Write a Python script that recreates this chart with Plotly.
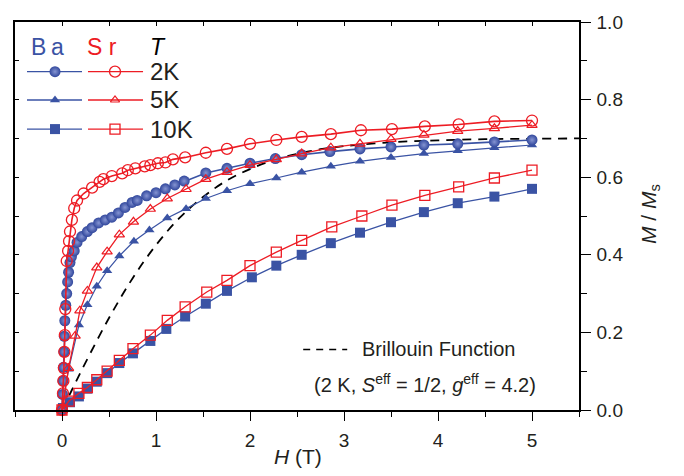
import plotly.graph_objects as go

# ---------------- data ----------------
H_ba2 = [0, .005, .01, .015, .02, .025, .03, .04, .05, .06, .07, .085, .1, .13, .16, .21, .27, .32, .39, .46,
         .53, .6, .67, .745, .8, .9, 1.0, 1.1, 1.2, 1.3, 1.53, 1.755, 2.0, 2.27, 2.55, 2.85, 3.17, 3.5, 3.85,
         4.21, 4.6, 5.0]
M_ba2 = [0, .04, .075, .11, .15, .19, .23, .27, .30, .33, .355, .38, .395, .41, .432, .447, .46, .47, .482, .49,
         .497, .508, .522, .535, .54, .552, .56, .570, .58, .59, .611, .623, .636, .648, .658, .666, .673, .678,
         .683, .686, .691, .696]

H_sr2 = [0, .01, .015, .02, .025, .03, .035, .05, .065, .075, .085, .105, .13, .16, .23, .32, .40, .44, .53, .64,
         .70, .78, .88, .94, 1.02, 1.1, 1.18, 1.31, 1.53, 1.755, 2.0, 2.28, 2.55, 2.86, 3.18, 3.51, 3.86, 4.22,
         4.6, 5.0]
M_sr2 = [0, .043, .075, .108, .15, .193, .26, .384, .41, .435, .46, .49, .52, .54, .558, .573, .588, .595, .603,
         .61, .618, .623, .628, .631, .636, .638, .646, .651, .663, .673, .686, .696, .704, .711, .721, .724, .731,
         .736, .744, .746]

H_ba5 = [0, 0.07, 0.18, 0.27, 0.37, 0.48, 0.61, 0.765, 0.93, 1.12, 1.32, 1.53, 1.755, 2.0, 2.28, 2.55, 2.86,
         3.17, 3.5, 3.85, 4.21, 4.6, 5.0]
M_ba5 = [0, 0.105, 0.219, 0.271, 0.319, 0.359, 0.397, 0.435, 0.464, 0.495, 0.519, 0.545, 0.565, 0.583, 0.598,
         0.613, 0.628, 0.641, 0.651, 0.661, 0.668, 0.676, 0.683]

H_sr5 = [0, 0.07, 0.14, 0.19, 0.27, 0.37, 0.48, 0.61, 0.76, 0.94, 1.12, 1.32, 1.53, 1.755, 2.0, 2.28, 2.55,
         2.86, 3.17, 3.5, 3.85, 4.21, 4.6, 5.0]
M_sr5 = [0, 0.108, 0.191, 0.256, 0.307, 0.367, 0.408, 0.452, 0.485, 0.518, 0.545, 0.569, 0.595, 0.613, 0.631,
         0.646, 0.661, 0.676, 0.686, 0.698, 0.709, 0.719, 0.726, 0.734]

H_ba10 = [0.01, 0.085, 0.18, 0.27, 0.37, 0.48, 0.61, 0.755, 0.94, 1.11, 1.31, 1.53, 1.755, 2.02, 2.28, 2.55,
          2.86, 3.17, 3.5, 3.85, 4.21, 4.6, 5.0]
M_ba10 = [0.005, 0.02, 0.035, 0.055, 0.073, 0.095, 0.121, 0.146, 0.178, 0.209, 0.241, 0.274, 0.307, 0.342,
          0.372, 0.40, 0.43, 0.457, 0.484, 0.510, 0.533, 0.550, 0.570]

H_sr10 = [0.0, 0.075, 0.18, 0.27, 0.37, 0.48, 0.61, 0.755, 0.94, 1.12, 1.31, 1.54, 1.755, 2.0, 2.28, 2.55,
          2.87, 3.19, 3.51, 3.86, 4.22, 4.6, 5.0]
M_sr10 = [0.0, 0.023, 0.043, 0.058, 0.078, 0.10, 0.128, 0.158, 0.193, 0.231, 0.266, 0.304, 0.334, 0.372,
          0.407, 0.437, 0.472, 0.50, 0.528, 0.553, 0.575, 0.598, 0.618]

H_bri = [0, 0.1, 0.25, 0.5, 0.75, 1.0, 1.25, 1.5, 1.75, 2.0, 2.25, 2.5, 2.75, 3.0, 3.5, 4.0, 4.5, 5.0, 5.5]
M_bri = [0, 0.049, 0.122, 0.237, 0.339, 0.425, 0.495, 0.549, 0.591, 0.621, 0.644, 0.660, 0.672, 0.680, 0.690,
         0.695, 0.698, 0.699, 0.700]

x_ticks = [0, 1, 2, 3, 4, 5]
y_ticks = [0.0, 0.2, 0.4, 0.6, 0.8, 1.0]
temps = ["2K", "5K", "10K"]

# ---------------- styles ----------------
BLUE = "#3a53a4"
RED = "#ed1c24"
FONT = "Liberation Sans, Arial, sans-serif"
TXT = "#231f20"

fig = go.Figure()

fig.add_trace(go.Scatter(x=H_bri, y=M_bri, mode="lines", line=dict(color="black", width=1.8, dash="9px,7px"),
                         line_shape="spline", cliponaxis=False))

blue_ball = dict(symbol="circle", size=11, color="#31479c", gradient=dict(type="radial", color="#8594d2"),
                 line=dict(width=0))
series = [
    (H_ba10, M_ba10, BLUE, dict(symbol="square", size=10, color=BLUE, line=dict(width=0)), 1.3),
    (H_ba5, M_ba5, BLUE, dict(symbol="triangle-up", size=9, color=BLUE, line=dict(width=0)), 1.2),
    (H_ba2, M_ba2, BLUE, blue_ball, 1.6),
    (H_sr10, M_sr10, RED, dict(symbol="square-open", size=10, color=RED, line=dict(width=1.3)), 1.3),
    (H_sr5, M_sr5, RED, dict(symbol="triangle-up-open", size=9, color=RED, line=dict(width=1.2)), 1.3),
    (H_sr2, M_sr2, RED, dict(symbol="circle-open", size=11, color=RED, line=dict(width=1.3)), 1.6),
]
for hx, my, col, mk, lw in series:
    fig.add_trace(go.Scatter(x=hx, y=my, mode="lines+markers", line=dict(color=col, width=lw),
                             marker=mk, cliponaxis=False))

# legend samples on an overlay axis in plot-area fractions
leg_rows = [0.872, 0.799, 0.724]
leg_blue = [blue_ball,
            dict(symbol="triangle-up", size=9, color=BLUE, line=dict(width=0)),
            dict(symbol="square", size=10, color=BLUE, line=dict(width=0))]
leg_red = [dict(symbol="circle-open", size=11, color=RED, line=dict(width=1.3)),
           dict(symbol="triangle-up-open", size=8, color=RED, line=dict(width=1.2)),
           dict(symbol="square-open", size=10, color=RED, line=dict(width=1.3))]
for yy, mb, mr in zip(leg_rows, leg_blue, leg_red):
    fig.add_trace(go.Scatter(x=[0.0213, 0.1188], y=[yy, yy], mode="lines", line=dict(color=BLUE, width=1.3),
                             xaxis="x3", yaxis="y3"))
    fig.add_trace(go.Scatter(x=[0.0709], y=[yy], mode="markers", marker=mb, xaxis="x3", yaxis="y3"))
    fig.add_trace(go.Scatter(x=[0.1294, 0.227], y=[yy, yy], mode="lines", line=dict(color=RED, width=1.3),
                             xaxis="x3", yaxis="y3"))
    fig.add_trace(go.Scatter(x=[0.1773], y=[yy], mode="markers", marker=mr, xaxis="x3", yaxis="y3"))
fig.add_trace(go.Scatter(x=[0.511, 0.589], y=[0.156, 0.156], mode="lines",
                         line=dict(color="black", width=1.6, dash="7px,6px"), xaxis="x3", yaxis="y3"))
# dummy trace for inner-tick overlay axes
fig.add_trace(go.Scatter(x=[None], y=[None], xaxis="x2", yaxis="y2"))

annotations = [
    dict(x=0.057, y=0.936, text="B\u2009a", font=dict(size=23, color=BLUE)),
    dict(x=0.154, y=0.936, text="S r", font=dict(size=23, color=RED)),
    dict(x=0.236, y=0.936, text="<i>T</i>", font=dict(size=23, color="black"), xanchor="left"),
]
for yy, t in zip(leg_rows, temps):
    annotations.append(dict(x=0.236, y=yy, text=t, font=dict(size=24, color=TXT), xanchor="left"))
annotations += [
    dict(x=0.612, y=0.156, text="Brillouin Function", font=dict(size=20, color=TXT), xanchor="left"),
    dict(x=0.727, y=0.068, text="(2 K, <i>S</i><sup>eff</sup> = 1/2, <i>g</i><sup>eff</sup> = 4.2)",
         font=dict(size=20, color=TXT)),
    dict(x=0.502, y=-0.121, text="<i>H</i> (T)", font=dict(size=21, color=TXT)),
    dict(x=1.126, y=0.505, text="<i>M</i> / <i>M</i><sub>s</sub>", font=dict(size=21, color=TXT), textangle=-90),
]
for a in annotations:
    a.setdefault("xref", "paper")
    a.setdefault("yref", "paper")
    a.setdefault("showarrow", False)
    a.setdefault("xanchor", "center")
    a.setdefault("yanchor", "middle")
    a["font"]["family"] = FONT

fig.update_layout(
    width=684, height=476,
    margin=dict(l=15, r=105, t=12, b=66),
    paper_bgcolor="white", plot_bgcolor="white",
    showlegend=False,
    font=dict(family=FONT, size=19, color=TXT),
    xaxis=dict(range=[-0.5, 5.5], tickvals=x_ticks, ticks="outside", ticklen=9, tickwidth=1.3,
               tickcolor="black", showline=True, linecolor="black", linewidth=1.5, showgrid=False,
               zeroline=False, ticklabelstandoff=3,
               minor=dict(dtick=0.5, tick0=0, ticks="outside", ticklen=5, tickwidth=1.2, tickcolor="black")),
    yaxis=dict(range=[0, 1], side="right", tickvals=y_ticks, ticktext=[f"{v:.1f}" for v in y_ticks],
               ticks="outside", ticklen=10, tickwidth=1.3, tickcolor="black", showline=True,
               linecolor="black", linewidth=1.5, showgrid=False, zeroline=False, ticklabelstandoff=2,
               minor=dict(dtick=0.1, tick0=0, ticks="outside", ticklen=6, tickwidth=1.2, tickcolor="black")),
    xaxis2=dict(range=[-0.5, 5.5], overlaying="x", side="top", anchor="y2", tickvals=x_ticks,
                ticks="inside", ticklen=4, tickwidth=1.2, tickcolor="black", showticklabels=False,
                showline=True, linecolor="black", linewidth=1.5, showgrid=False, zeroline=False,
                minor=dict(dtick=0.5, tick0=0, ticks="inside", ticklen=4, tickwidth=1.2, tickcolor="black")),
    yaxis2=dict(range=[0, 1], overlaying="y", side="left", anchor="x2", tickvals=y_ticks,
                ticks="inside", ticklen=4, tickwidth=1.2, tickcolor="black", showticklabels=False,
                showline=True, linecolor="black", linewidth=1.5, showgrid=False, zeroline=False,
                minor=dict(dtick=0.1, tick0=0, ticks="inside", ticklen=4, tickwidth=1.2, tickcolor="black")),
    xaxis3=dict(range=[0, 1], overlaying="x", anchor="y3", visible=False),
    yaxis3=dict(range=[0, 1], overlaying="y", anchor="x3", visible=False),
    annotations=annotations,
)

fig.write_html("out.html")
